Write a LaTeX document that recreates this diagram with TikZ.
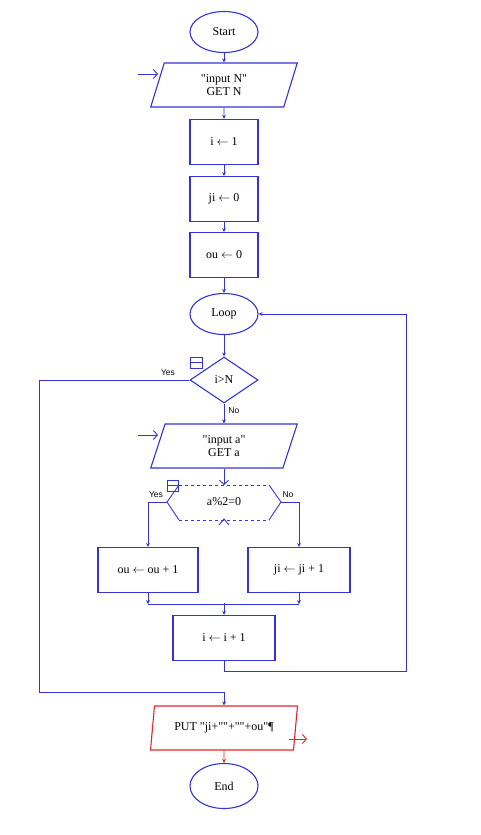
\documentclass[tikz,border=0pt]{standalone}
\usepackage{fontspec}
\setmainfont{Liberation Serif}
\setsansfont{Liberation Sans}
\usetikzlibrary{arrows.meta, positioning, shapes.geometric, calc}
\definecolor{flowblue}{HTML}{3434D6}
\definecolor{flowred}{HTML}{E4252B}
\newcommand{\dq}{\textquotedbl}
\tikzset{
  term/.style={ellipse, draw=flowblue, line width=1.1pt, minimum width=68pt, minimum height=41pt,
    inner sep=0pt, font=\fontsize{12}{13.5}\selectfont},
  proc/.style={rectangle, draw=flowblue, line width=1.1pt, minimum height=45pt, align=center,
    font=\fontsize{12}{13.5}\selectfont},
  io/.style={trapezium, trapezium left angle=77, trapezium right angle=103, trapezium stretches=true,
    draw=flowblue, line width=1.1pt, minimum width=147pt, minimum height=44pt, inner sep=1pt,
    align=center, font=\fontsize{12}{13.5}\selectfont},
  decision/.style={diamond, draw=flowblue, line width=1.1pt, minimum width=68pt, minimum height=46pt,
    inner sep=0pt, font=\fontsize{12}{13.5}\selectfont},
  arrow/.style={-{Stealth[length=4pt, width=4pt]}, flowblue, line width=0.9pt},
  line/.style={flowblue, line width=0.9pt},
  inarrow/.style={-{Straight Barb[length=4pt, width=9pt]}, flowblue, line width=0.9pt},
  outarrow/.style={-{Straight Barb[length=4pt, width=9pt]}, flowred, line width=0.9pt},
  tag/.style={font=\sffamily\fontsize{8.5}{10}\selectfont, text=black, inner sep=1pt},
}
\begin{document}
\begin{tikzpicture}[x=1pt, y=-1pt]
\useasboundingbox (0,0) rectangle (480,835);

% main column
\node[term] (start) at (224,32) {Start};
\node[io] (inN) at (224,85) {\dq input N\dq\\GET N};
\node[proc, minimum width=68pt] (setI) at (224,142) {i $\leftarrow$ 1};
\node[proc, minimum width=68pt] (setJi) at (224,199) {ji $\leftarrow$ 0};
\node[proc, minimum width=68pt] (setOu) at (224,255) {ou $\leftarrow$ 0};
\node[term] (loop) at (224,314) {Loop};
\node[decision] (test) at (224,380) {i>N};
\node[io] (inA) at (224,446) {\dq input a\dq\\GET a};
\node[font=\fontsize{12}{13.5}\selectfont] (par) at (224,502) {a\%2=0};
\node[proc, minimum width=100pt] (ouInc) at (148,570) {ou $\leftarrow$ ou + 1};
\node[proc, minimum width=102pt] (jiInc) at (299,570) {ji $\leftarrow$ ji + 1};
\node[proc, minimum width=102pt] (incI) at (224,638) {i $\leftarrow$ i + 1};
\node[io, draw=flowred] (put) at (224,728) {PUT \dq ji+\dq\dq+\dq\dq+ou\dq\P};
\node[term, minimum height=45pt] (stop) at (224,786) {End};

% parity test outline
\coordinate (parW) at (167,502);
\coordinate (parE) at (281,502);
\draw[line, dashed] (179,485) -- (269,485);
\draw[line, dashed] (179,520) -- (269,520);
\draw[line] (179,485) -- (parW) -- (179,520);
\draw[line] (269,485) -- (parE) -- (269,520);
\draw[line] (219,525) -- (224,519) -- (229,525);
\coordinate (parN) at (224,485);

% small marks
\draw[line] (190,357) rectangle (202,368);
\draw[line] (190,362.5) -- (202,362.5);
\draw[line] (167,480) rectangle (178,491);
\draw[line] (167,485.5) -- (178,485.5);

% input / output marks
\coordinate (inNsrc) at (138,74);
\coordinate (inNtip) at (158,74);
\draw[inarrow] (inNsrc) -- (inNtip);
\coordinate (inAsrc) at (138,435);
\coordinate (inAtip) at (158,435);
\draw[inarrow] (inAsrc) -- (inAtip);
\coordinate (outsrc) at (289,739);
\coordinate (outtip) at (307,739);
\draw[outarrow] (outsrc) -- (outtip);

% connectors
\draw[arrow] (start) -- (inN);
\draw[arrow] (inN) -- (setI);
\draw[arrow] (setI) -- (setJi);
\draw[arrow] (setJi) -- (setOu);
\draw[arrow] (setOu) -- (loop);
\draw[arrow] (loop) -- (test);
\draw[arrow] (test) -- (inA) node[tag, pos=0.33, right=3pt] {No};
\draw[inarrow] (inA) -- (parN);
\draw[arrow] (test.west) -- ++(-150,0) |- ($(put.north)+(0,-13)$) -- (put.north);
\node[tag] (yes1) at (168,373) {Yes};
\draw[arrow] (parW) -| (ouInc.north);
\draw[arrow] (parE) -| (jiInc.north);
\node[tag] (yes2) at (156,495) {Yes};
\node[tag] (no2) at (288,495) {No};
\coordinate (merge) at (224,603);
\draw[arrow] (ouInc.south) -- ++(0,11);
\draw[arrow] (jiInc.south) -- ++(0,11);
\draw[line] ($(ouInc.south)+(0,11)$) -- ($(jiInc.south)+(0,11)$);
\draw[arrow] (merge) -- (incI);
\draw[arrow] (incI.south) -- ++(0,10) -| ([xshift=148pt]loop.east) -- (loop.east);
\draw[arrow, flowred] (put) -- (stop);
\end{tikzpicture}
\end{document}
